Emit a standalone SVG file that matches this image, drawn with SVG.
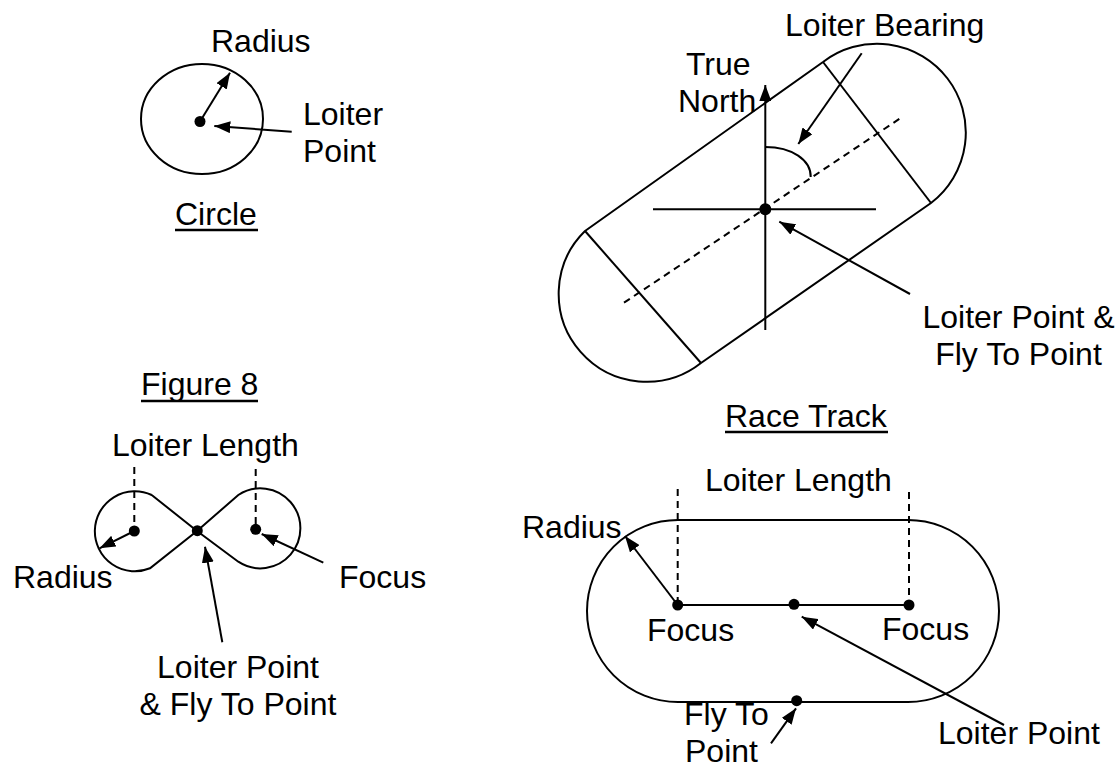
<svg xmlns="http://www.w3.org/2000/svg" width="1118" height="769" viewBox="0 0 1118 769">
<defs>
<style>
text{font-family:"Liberation Sans",Arial,sans-serif;font-size:32px;fill:#000}
.ln{stroke:#000;stroke-width:2;fill:none}
.dash{stroke:#000;stroke-width:2;fill:none;stroke-dasharray:7,5}
.arr{stroke:#000;stroke-width:2;fill:none;marker-end:url(#ah)}
.ul{stroke:#000;stroke-width:2.5}
.dot{fill:#000}
</style>
<marker id="ah" markerWidth="16" markerHeight="12" refX="16" refY="6" orient="auto" markerUnits="userSpaceOnUse"><path d="M0,0 L16,6 L0,12 Z" fill="#000"/></marker>
</defs>
<rect width="1118" height="769" fill="#fff"/>

<g id="circle-fig">
<ellipse class="ln" cx="202" cy="119" rx="61" ry="55"/>
<circle class="dot" cx="200" cy="121.5" r="5.5"/>
<text x="211" y="52">Radius</text>
<text x="303" y="125">Loiter</text>
<text x="303" y="162">Point</text>
<text x="175" y="225">Circle</text>
<line class="ul" x1="175" y1="230" x2="258" y2="230"/>
</g>

<g id="racetrack-rotated">
<path class="ln" d="M585,231 L823,62 A88,88 0 0 1 931,203 L701,363 A88,88 0 0 1 585,231 Z"/>
<line class="ln" x1="823" y1="62" x2="931" y2="203"/>
<line class="ln" x1="585" y1="231" x2="701" y2="363"/>
<line class="dash" x1="624" y1="302.7" x2="901.7" y2="117.3"/>
<line class="ln" x1="653" y1="209.3" x2="876" y2="209.3"/>
<path class="ln" d="M765.3,147 C792,147 811,160 810.7,177"/>
<circle class="dot" cx="765.3" cy="209.3" r="6"/>
<text x="686" y="75">True</text>
<text x="678" y="112">North</text>
<text x="785" y="36">Loiter Bearing</text>
<text x="1018.5" y="328" text-anchor="middle">Loiter Point &amp;</text>
<text x="1018.5" y="364.5" text-anchor="middle">Fly To Point</text>
<text x="725" y="427">Race Track</text>
<line class="ul" x1="725" y1="432" x2="888" y2="432"/>
</g>

<g id="figure8">
<path class="ln" d="M151.7,495 L197,531 L238.3,561.7 A40,40 0 1 0 238.3,495 L197,531 L150,568.3 A40,40 0 1 1 151.7,495"/>
<line class="dash" x1="134.3" y1="467" x2="134.3" y2="527"/>
<line class="dash" x1="255.7" y1="469" x2="255.7" y2="524"/>
<circle class="dot" cx="134.3" cy="531" r="5.5"/>
<circle class="dot" cx="255.7" cy="529.3" r="5.5"/>
<circle class="dot" cx="197.3" cy="530.7" r="5.5"/>
<text x="141" y="395">Figure 8</text>
<line class="ul" x1="141" y1="401" x2="258" y2="401"/>
<text x="112" y="456">Loiter Length</text>
<text x="13" y="588">Radius</text>
<text x="339" y="588">Focus</text>
<text x="238" y="678" text-anchor="middle">Loiter Point</text>
<text x="238" y="715" text-anchor="middle">&amp; Fly To Point</text>
</g>

<g id="racetrack">
<path class="ln" d="M678,520 L908,520 A91,91 0 0 1 908,702 L678,702 A91,91 0 0 1 678,520 Z"/>
<line class="ln" x1="677.7" y1="605" x2="909" y2="605"/>
<line class="dash" x1="677.7" y1="489" x2="677.7" y2="600"/>
<line class="dash" x1="909" y1="492" x2="909" y2="600"/>
<circle class="dot" cx="677.7" cy="605" r="5.5"/>
<circle class="dot" cx="909" cy="605" r="5.5"/>
<circle class="dot" cx="794" cy="604.3" r="5.5"/>
<circle class="dot" cx="796.7" cy="700.7" r="5.5"/>
<text x="705" y="491">Loiter Length</text>
<text x="522" y="538">Radius</text>
<text x="647" y="641">Focus</text>
<text x="882" y="640">Focus</text>
<text x="684" y="725">Fly To</text>
<text x="685" y="762">Point</text>
<text x="938" y="744">Loiter Point</text>
</g>

<g id="connectors">
<line class="arr" x1="200" y1="121.5" x2="230" y2="72.7"/>
<line class="arr" x1="291.7" y1="131.7" x2="214.3" y2="126"/>
<line class="arr" x1="765.3" y1="330" x2="765.3" y2="85"/>
<line class="arr" x1="861.7" y1="53.3" x2="798.3" y2="144"/>
<line class="arr" x1="910" y1="294" x2="779.3" y2="221.7"/>
<line class="arr" x1="134.3" y1="531" x2="99.5" y2="548.3"/>
<line class="arr" x1="323.3" y1="562.7" x2="261.7" y2="534"/>
<line class="arr" x1="222.3" y1="642.3" x2="205" y2="546.7"/>
<line class="arr" x1="677.7" y1="605" x2="625" y2="536"/>
<line class="arr" x1="1004" y1="725" x2="801.7" y2="616.7"/>
<line class="arr" x1="771" y1="743.3" x2="796" y2="708.3"/>
</g>
</svg>
